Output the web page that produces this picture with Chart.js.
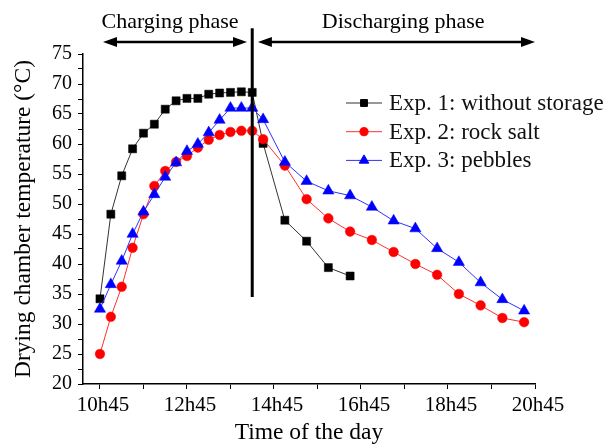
<!DOCTYPE html>
<html>
<head>
<meta charset="utf-8">
<script src="https://cdn.jsdelivr.net/npm/chart.js@4.4.0/dist/chart.umd.min.js"></script>
<style>
  html, body { margin: 0; padding: 0; background: #fff; }
  #wrap { width: 609px; height: 447px; }
</style>
</head>
<body>
<div id="wrap"><canvas id="myChart" width="609" height="447"></canvas></div>
<script>
// sampling times: every 15 min while charging, every 30 min while discharging
const times = [
    '10h45', '11h00', '11h15', '11h30', '11h45', '12h00', '12h15', '12h30',
    '12h45', '13h00', '13h15', '13h30', '13h45', '14h00', '14h15',
    '14h30', '15h00', '15h30', '16h00', '16h30', '17h00', '17h30',
    '18h00', '18h30', '19h00', '19h30', '20h00', '20h30'
];

// drying chamber temperature (°C)
const exp1Temps = [34.2, 48.3, 54.7, 59.2, 61.8, 63.3, 65.8, 67.2, 67.6, 67.6, 68.3, 68.5, 68.6, 68.7, 68.6,
    60.1, 47.3, 43.8, 39.4, 38.0];
const exp2Temps = [25.0, 31.2, 36.2, 42.7, 48.3, 53.0, 55.5, 57.0, 58.0, 59.4, 60.7, 61.5, 62.0, 62.2, 62.2,
    60.8, 56.4, 50.8, 47.6, 45.4, 44.0, 42.0, 40.0, 38.2, 35.0, 33.1, 31.0, 30.3];
const exp3Temps = [32.5, 36.6, 40.5, 45.0, 48.7, 51.6, 54.5, 56.9, 58.8, 60.0, 61.9, 64.0, 66.0, 66.0, 66.0,
    64.1, 57.0, 53.8, 52.2, 51.4, 49.5, 47.2, 45.9, 42.6, 40.3, 36.9, 34.1, 32.2];

const seriesNames = ['Exp. 1: without storage', 'Exp. 2: rock salt', 'Exp. 3: pebbles'];

const xTickLabels = ['10h45', '12h45', '14h45', '16h45', '18h45', '20h45'];
const yTickLabels = [20, 25, 30, 35, 40, 45, 50, 55, 60, 65, 70, 75];

const phaseSwitch = '14h15';

function toHours(t) {
    var parts = t.split('h');
    return Number(parts[0]) + Number(parts[1]) / 60;
}

function toPoints(values) {
    return values.map(function (v, i) {
        return { x: toHours(times[i]), y: v };
    });
}

// major ticks carry labels, a minor tick sits halfway between each pair
function withMinor(major) {
    var out = [];
    for (var i = 0; i < major.length; i++) {
        out.push(major[i]);
        if (i < major.length - 1) out.push((major[i] + major[i + 1]) / 2);
    }
    return out;
}

const xMajor = xTickLabels.map(toHours);
const fontFamily = "'Liberation Serif', 'Times New Roman', serif";
Chart.defaults.font.family = fontFamily;
Chart.defaults.color = '#000';

function drawArrow(ctx, x1, x2, y) {
    var head = 14, half = 5;
    ctx.beginPath();
    ctx.moveTo(x1 + head - 2, y);
    ctx.lineTo(x2 - head + 2, y);
    ctx.stroke();
    ctx.beginPath();
    ctx.moveTo(x1, y);
    ctx.lineTo(x1 + head, y - half);
    ctx.lineTo(x1 + head, y + half);
    ctx.closePath();
    ctx.fill();
    ctx.beginPath();
    ctx.moveTo(x2, y);
    ctx.lineTo(x2 - head, y - half);
    ctx.lineTo(x2 - head, y + half);
    ctx.closePath();
    ctx.fill();
}

const phasePlugin = {
    id: 'phases',
    afterDraw: function (chart) {
        var ctx = chart.ctx, x = chart.scales.x, y = chart.scales.y;
        var split = x.getPixelForValue(toHours(phaseSwitch));
        ctx.save();
        ctx.strokeStyle = '#000';
        ctx.fillStyle = '#000';
        ctx.lineWidth = 3;
        ctx.beginPath();
        ctx.moveTo(split, y.getPixelForValue(79.3));
        ctx.lineTo(split, y.getPixelForValue(34.5));
        ctx.stroke();

        var arrowY = y.getPixelForValue(77);
        ctx.lineWidth = 2.5;
        drawArrow(ctx, x.getPixelForValue(10.82), x.getPixelForValue(14.13), arrowY);
        drawArrow(ctx, x.getPixelForValue(14.38), x.getPixelForValue(20.75), arrowY);

        ctx.font = '22px ' + fontFamily;
        ctx.textAlign = 'center';
        ctx.textBaseline = 'middle';
        var textY = y.getPixelForValue(80.3);
        ctx.fillText('Charging phase', x.getPixelForValue(12.36), textY);
        ctx.fillText('Discharging phase', x.getPixelForValue(17.72), textY);
        ctx.restore();
    }
};

const legendPlugin = {
    id: 'sideLegend',
    afterDraw: function (chart) {
        var ctx = chart.ctx;
        ctx.save();
        ctx.font = '23px ' + fontFamily;
        ctx.textBaseline = 'middle';
        ctx.textAlign = 'left';
        chart.data.datasets.forEach(function (ds, i) {
            var rowY = 103 + i * 28.7;
            ctx.strokeStyle = ds.borderColor;
            ctx.lineWidth = 1;
            ctx.beginPath();
            ctx.moveTo(346, rowY);
            ctx.lineTo(382, rowY);
            ctx.stroke();
            ctx.fillStyle = ds.pointBackgroundColor;
            ctx.strokeStyle = ds.pointBorderColor;
            Chart.helpers.drawPoint(ctx, {
                pointStyle: ds.pointStyle,
                rotation: 0,
                radius: ds.pointRadius * 0.85,
                borderWidth: ds.pointBorderWidth
            }, 364, rowY);
            ctx.fillStyle = '#111';
            ctx.fillText(seriesNames[i], 389, rowY + 1);
        });
        ctx.restore();
    }
};

const dataSource = {
    datasets: [
        {
            label: seriesNames[0],
            data: toPoints(exp1Temps),
            borderColor: '#333',
            borderWidth: 1,
            pointStyle: 'rect',
            pointRadius: 5.7,
            pointBackgroundColor: '#000',
            pointBorderColor: '#000',
            pointBorderWidth: 0.5,
            order: 3
        },
        {
            label: seriesNames[1],
            data: toPoints(exp2Temps),
            borderColor: '#ff3030',
            borderWidth: 1,
            pointStyle: 'circle',
            pointRadius: 4.8,
            pointBackgroundColor: '#ff0000',
            pointBorderColor: '#ff0000',
            pointBorderWidth: 0.5,
            order: 2
        },
        {
            label: seriesNames[2],
            data: toPoints(exp3Temps),
            borderColor: '#3030ff',
            borderWidth: 1,
            pointStyle: 'triangle',
            pointRadius: 6.5,
            pointBackgroundColor: '#0000ff',
            pointBorderColor: '#0000ff',
            pointBorderWidth: 0.5,
            order: 1
        }
    ]
};

new Chart(document.getElementById('myChart').getContext('2d'), {
    type: 'line',
    data: dataSource,
    plugins: [phasePlugin, legendPlugin],
    options: {
        responsive: false,
        animation: false,
        devicePixelRatio: 1,
        layout: { padding: { left: 0, top: 54, right: 74, bottom: 0 } },
        plugins: { legend: { display: false }, tooltip: { enabled: false } },
        elements: { line: { tension: 0 } },
        scales: {
            x: {
                type: 'linear',
                min: 10.36,
                max: 20.75,
                afterBuildTicks: function (scale) {
                    scale.ticks = withMinor(xMajor).map(function (v) { return { value: v }; });
                },
                afterFit: function (scale) { scale.height = 63; },
                ticks: {
                    autoSkip: false,
                    maxRotation: 0,
                    padding: 4,
                    labelOffset: 3,
                    font: { size: 21 },
                    callback: function (value) {
                        var i = xMajor.indexOf(value);
                        return i >= 0 ? xTickLabels[i] : '';
                    }
                },
                grid: { drawOnChartArea: false, drawTicks: true, tickLength: 5, color: '#000' },
                border: { color: '#000', width: 1.5 },
                title: {
                    display: true,
                    text: 'Time of the day',
                    font: { size: 23.5 },
                    padding: { top: 0, bottom: 0 }
                }
            },
            y: {
                min: 20,
                max: 75,
                afterBuildTicks: function (scale) {
                    scale.ticks = withMinor(yTickLabels).map(function (v) { return { value: v }; });
                },
                afterFit: function (scale) { scale.width = 83; },
                ticks: {
                    autoSkip: false,
                    padding: 6,
                    font: { size: 20 },
                    callback: function (value) {
                        return yTickLabels.indexOf(value) >= 0 ? String(value) : '';
                    }
                },
                grid: { drawOnChartArea: false, drawTicks: true, tickLength: 5, color: '#000' },
                border: { color: '#000', width: 1.5 },
                title: {
                    display: true,
                    text: 'Drying chamber temperature (°C)',
                    font: { size: 23.5 },
                    padding: { top: 10, bottom: 0 }
                }
            }
        }
    }
});
</script>
</body>
</html>
